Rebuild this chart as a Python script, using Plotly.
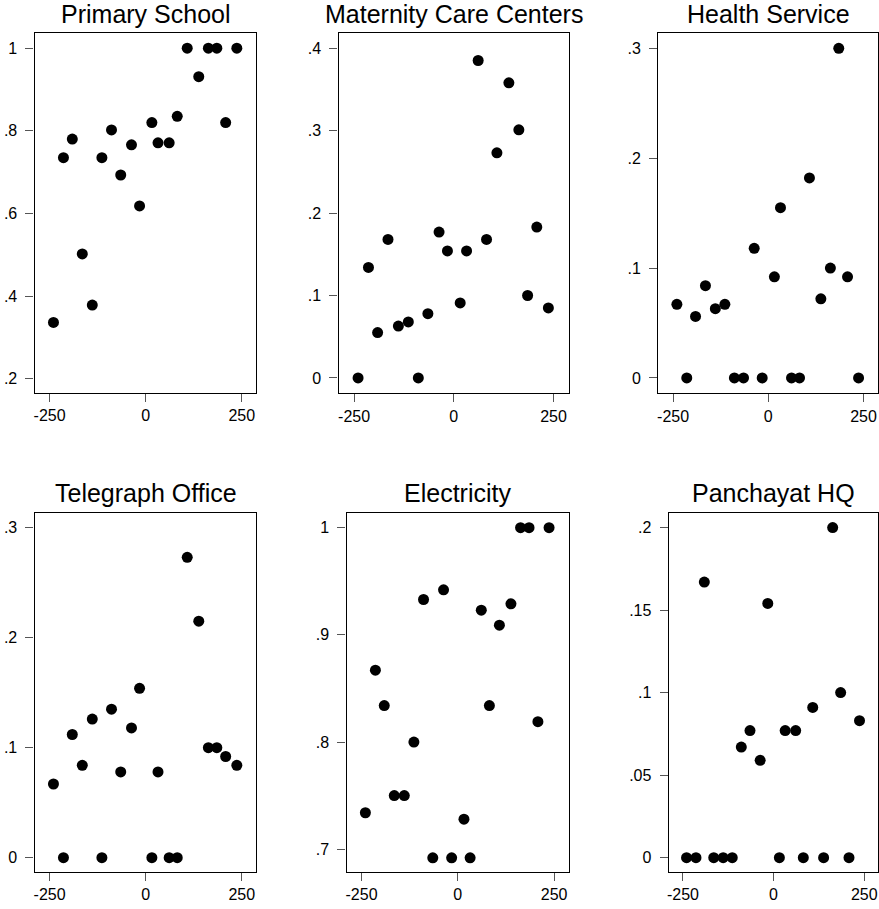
import plotly.graph_objects as go

W, H = 879, 909

# Common running-variable bins (x)
x_bins = [-240, -214, -191, -165, -139, -114, -89, -65, -37, -16,
          16, 32, 61, 82, 108, 138, 163, 185, 208, 237]

primary_school = [0.336, 0.735, 0.780, 0.502, 0.378, 0.735, 0.802, 0.693, 0.766, 0.618,
                  0.820, 0.771, 0.771, 0.835, 1.0, 0.931, 1.0, 1.0, 0.820, 1.0]
maternity_care = [0.0, 0.134, 0.055, 0.168, 0.063, 0.068, 0.0, 0.078, 0.177, 0.154,
                  0.091, 0.154, 0.385, 0.168, 0.273, 0.358, 0.301, 0.100, 0.183, 0.085]
health_service = [0.067, 0.0, 0.056, 0.084, 0.063, 0.067, 0.0, 0.0, 0.118, 0.0,
                  0.092, 0.155, 0.0, 0.0, 0.182, 0.072, 0.100, 0.300, 0.092, 0.0]
telegraph_office = [0.067, 0.0, 0.112, 0.084, 0.126, 0.0, 0.135, 0.078, 0.118, 0.154,
                    0.0, 0.078, 0.0, 0.0, 0.273, 0.215, 0.100, 0.100, 0.092, 0.084]
electricity = [0.734, 0.867, 0.834, 0.750, 0.750, 0.800, 0.933, 0.692, 0.942, 0.692,
               0.728, 0.692, 0.923, 0.834, 0.909, 0.929, 1.0, 1.0, 0.819, 1.0]
panchayat_hq = [0.0, 0.0, 0.167, 0.0, 0.0, 0.0, 0.067, 0.077, 0.059, 0.154,
                0.0, 0.077, 0.077, 0.0, 0.091, 0.0, 0.2, 0.100, 0.0, 0.083]

titles = ["Primary School", "Maternity Care Centers", "Health Service",
          "Telegraph Office", "Electricity", "Panchayat HQ"]
series = [primary_school, maternity_care, health_service,
          telegraph_office, electricity, panchayat_hq]

x_tickvals = [-250, 0, 250]
x_ticktext = ["-250", "0", "250"]

y_tickvals = [
    [0.2, 0.4, 0.6, 0.8, 1.0],
    [0.0, 0.1, 0.2, 0.3, 0.4],
    [0.0, 0.1, 0.2, 0.3],
    [0.0, 0.1, 0.2, 0.3],
    [0.7, 0.8, 0.9, 1.0],
    [0.0, 0.05, 0.1, 0.15, 0.2],
]
y_ticktext = [
    [".2", ".4", ".6", ".8", "1"],
    ["0", ".1", ".2", ".3", ".4"],
    ["0", ".1", ".2", ".3"],
    ["0", ".1", ".2", ".3"],
    [".7", ".8", ".9", "1"],
    ["0", ".05", ".1", ".15", ".2"],
]
y_ranges = [
    [0.166, 1.036],
    [-0.0186, 0.418],
    [-0.014, 0.3137],
    [-0.0127, 0.3136],
    [0.679, 1.014],
    [-0.0085, 0.209],
]
x_range = [-289, 288]

# panel boxes in pixels: (left, right, top, bottom)
boxes = [
    (32.7, 255.0, 33.3, 392.7),
    (337.3, 568.0, 33.3, 393.3),
    (657.7, 878.0, 33.3, 393.3),
    (32.7, 255.0, 512.7, 871.7),
    (345.3, 568.0, 512.7, 871.7),
    (668.3, 878.0, 512.7, 871.7),
]
title_y = [14.5, 14.5, 14.5, 493.0, 493.0, 493.0]

FONT = "Liberation Sans, Arial, sans-serif"

fig = go.Figure()
layout = dict(
    width=W, height=H,
    margin=dict(l=0, r=0, t=0, b=0),
    paper_bgcolor="white", plot_bgcolor="white",
    showlegend=False,
    font=dict(family=FONT, color="black"),
    annotations=[],
)

for i, (ttl, ys) in enumerate(zip(titles, series)):
    n = "" if i == 0 else str(i + 1)
    fig.add_trace(go.Scatter(
        x=x_bins, y=ys, mode="markers",
        marker=dict(color="black", size=11, line=dict(width=0)),
        xaxis="x" + n, yaxis="y" + n, cliponaxis=False,
    ))
    l, r, t, b = boxes[i]
    common = dict(
        showline=True, mirror=True, linecolor="black", linewidth=1.3,
        showgrid=False, zeroline=False,
        ticks="outside", ticklen=8, tickwidth=1, tickcolor="#555",
        tickfont=dict(family=FONT, size=16, color="black"),
        fixedrange=True,
    )
    layout["xaxis" + n] = dict(
        common, domain=[l / W, r / W], range=x_range,
        tickvals=x_tickvals, ticktext=x_ticktext,
        anchor="y" + n, ticklabelstandoff=0,
    )
    layout["yaxis" + n] = dict(
        common, domain=[1 - b / H, 1 - t / H], range=y_ranges[i],
        tickvals=y_tickvals[i], ticktext=y_ticktext[i],
        anchor="x" + n, ticklabelstandoff=5,
    )
    layout["annotations"].append(dict(
        text=ttl, x=(l + r) / 2 / W, y=1 - title_y[i] / H,
        xref="paper", yref="paper", xanchor="center", yanchor="middle",
        showarrow=False, font=dict(family=FONT, size=25, color="black"),
    ))

fig.update_layout(**layout)
fig.write_html(
    "out.html",
    config={"displayModeBar": False},
    post_script="document.body.style.margin='0px';document.body.style.overflow='hidden';",
)
